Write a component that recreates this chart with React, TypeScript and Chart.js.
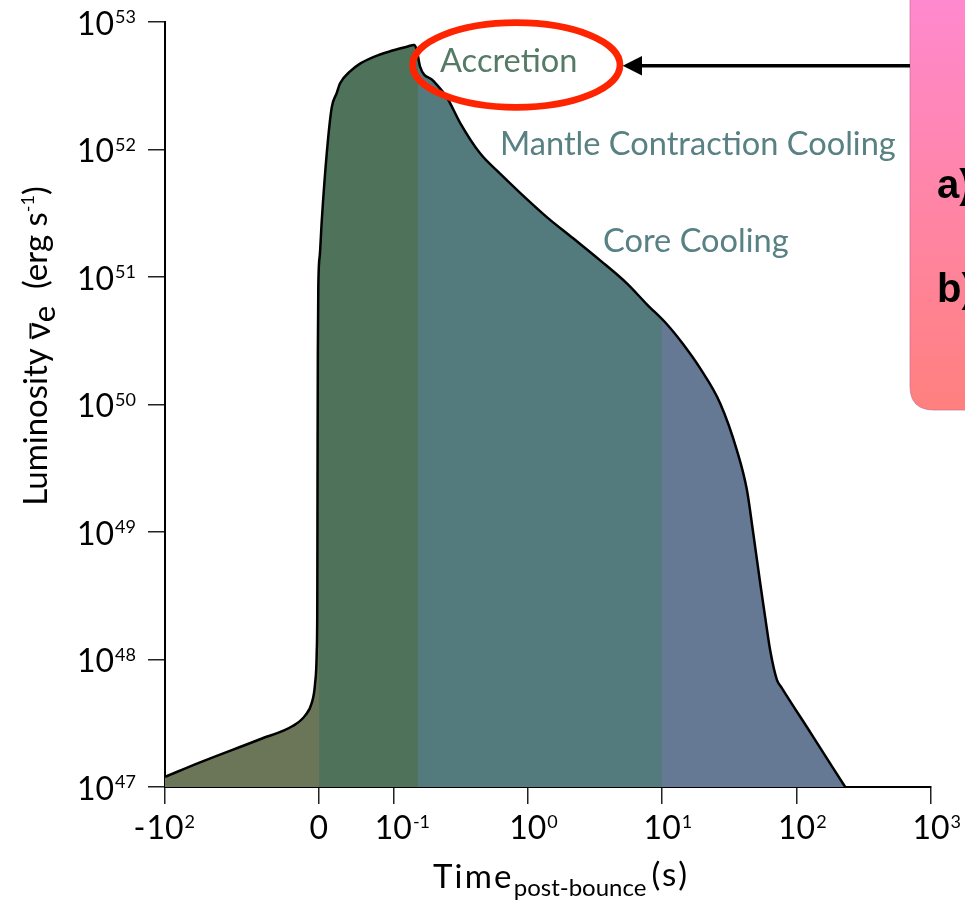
import React, { useEffect, useRef } from "react";
import { Chart, registerables } from "chart.js";

Chart.register(...registerables);

// ---------- data ----------
// time after bounce (s)
const TIME_S = [
  -100, -77.2, -38.2, -16.7, -8.9, -4.55, -2.41, -1.3, -0.95, -0.85, -0.75, -0.6, -0.3,
  0.0015, 0.004, 0.0107, 0.0174, 0.0239, 0.0286, 0.042, 0.0554, 0.0755, 0.0956, 0.1258, 0.1426, 0.1493, 0.158,
  0.1974, 0.2497, 0.3137, 0.4418, 0.6226, 0.877, 1.386, 2.176, 3.456, 5.46, 7.69, 10.84,
  14.33, 19.18, 27.03, 35.97, 42.7, 47.6, 53.6, 58.4, 63.7, 71.4, 76.9, 128.6, 230,
];
// anti-electron-neutrino luminosity (erg/s)
const LUMINOSITY = [
  1.2e47, 1.56e47, 2.37e47, 3.02e47, 3.63e47, 4.57e47, 6.46e47, 1.17e48, 2.88e48, 1.23e49, 5.25e49, 2.51e50, 8.32e50,
  1.51e51, 2.75e51, 9.33e51, 2.14e52, 2.76e52, 3.31e52, 4.1e52, 4.72e52, 5.38e52, 5.89e52, 6.39e52, 6.61e52, 6.03e52, 4.47e52,
  3.47e52, 2.57e52, 1.62e52, 9.33e51, 6.46e51, 4.57e51, 2.95e51, 2.01e51, 1.35e51, 8.91e50, 6.11e50, 4.26e50,
  2.97e50, 1.92e50, 1.02e50, 4.37e49, 2.14e49, 9.77e48, 3.98e48, 2.14e48, 1.17e48, 6.92e47, 6.08e47, 2.61e47, 1.0e47,
];
// phases (start time in s) and their fill colours
const PHASE_START_S = [-100, 0, 0.153, 10];
const PHASE_COLORS = ["#6B7659", "#4E735A", "#537B7D", "#657994"];
const PHASE_NAMES = ["Accretion", "Mantle Contraction Cooling", "Core Cooling"];
const PHASE_NAME_COLORS = ["#557A65", "#588183", "#588183"];

// axis ticks
const X_TICKS_S = [-100, 0, 0.1, 1, 10, 100, 1000];
const X_TICK_PREFIX = ["-", "", "", "", "", "", ""];
const X_TICK_BASE = ["10", "0", "10", "10", "10", "10", "10"];
const X_TICK_SUP = ["2", "", "-1", "0", "1", "2", "3"];
const Y_TICK_EXP = [47, 48, 49, 50, 51, 52, 53];

const BOX_ITEMS = ["a)", "b)"];

// ---------- axis transform (symlog-like: linear below 0.1 s, log above) ----------
const LIN_DECADES = 0.555; // axis width used by 0 .. 0.1 s
const NEG_DECADES = 1.144; // axis width used by -100 .. 0 s
function axisPos(t: number): number {
  if (t >= 0.1) return Math.log10(t);
  if (t >= 0) return -1 - LIN_DECADES * (1 - t / 0.1);
  return -1 - LIN_DECADES - NEG_DECADES * (-t / 100);
}

const FONT = "Lato, 'Open Sans', sans-serif";

const overlay = {
  id: "overlay",
  afterDraw(chart: any) {
    const ctx: any = chart.ctx;
    const xs = chart.scales.x;
    const ys = chart.scales.y;
    const area = chart.chartArea;
    ctx.save();
    ctx.fillStyle = "#000";
    ctx.textBaseline = "alphabetic";

    // y tick labels
    Y_TICK_EXP.forEach((e) => {
      const y = ys.getPixelForValue(10 ** e);
      const right = area.left - 29;
      ctx.font = `18px ${FONT}`;
      const sw = ctx.measureText(String(e)).width;
      ctx.textAlign = "right";
      ctx.fillText(String(e), right, y + 1);
      ctx.font = `32px ${FONT}`;
      ctx.fillText("10", right - sw - 1, y + 12.6);
    });

    // x tick labels
    X_TICKS_S.forEach((t, i) => {
      const x = xs.getPixelForValue(axisPos(t));
      const baseY = area.bottom + 51.6;
      ctx.font = `32px ${FONT}`;
      const base = X_TICK_BASE[i];
      const bw = ctx.measureText(base).width;
      const bx = x - bw / 2;
      ctx.textAlign = "left";
      ctx.fillText(base, bx, baseY);
      if (X_TICK_PREFIX[i]) {
        ctx.textAlign = "right";
        ctx.fillText(X_TICK_PREFIX[i], bx - 1, baseY);
      }
      if (X_TICK_SUP[i]) {
        ctx.textAlign = "left";
        ctx.font = `18px ${FONT}`;
        ctx.fillText(X_TICK_SUP[i], bx + bw + 1, baseY - 10.8);
      }
    });

    // x title
    {
      ctx.textAlign = "left";
      let x = 433;
      const by = area.bottom + 101;
      ctx.font = `33px ${FONT}`;
      ctx.letterSpacing = "2.2px";
      ctx.fillText("Time", x, by);
      x += ctx.measureText("Time").width;
      ctx.letterSpacing = "0px";
      ctx.font = `24px ${FONT}`;
      ctx.fillText("post-bounce", x, by + 8);
      x += ctx.measureText("post-bounce").width + 5;
      ctx.font = `33px ${FONT}`;
      ctx.letterSpacing = "2.5px";
      ctx.fillText("(s)", x, by - 2);
      ctx.letterSpacing = "0px";
    }

    // y title (rotated)
    {
      const pieces = [
        { t: "Luminosity ", f: `33px ${FONT}`, dy: 0, over: false },
        { t: "ν", f: `34px ${FONT}`, dy: 3.5, over: true },
        { t: "e", f: `31px ${FONT}`, dy: 8, over: false },
        { t: "  (erg s", f: `33px ${FONT}`, dy: 0, over: false },
        { t: "-1", f: `18px ${FONT}`, dy: -13, over: false },
        { t: ")", f: `33px ${FONT}`, dy: 0, over: false },
      ];
      let total = 0;
      const widths = pieces.map((p) => {
        ctx.font = p.f;
        const w = ctx.measureText(p.t).width;
        total += w;
        return w;
      });
      ctx.save();
      ctx.translate(46.5, 346);
      ctx.rotate(-Math.PI / 2);
      ctx.textAlign = "left";
      let x = -total / 2;
      pieces.forEach((p, i) => {
        ctx.font = p.f;
        ctx.fillText(p.t, x, p.dy);
        if (p.over) {
          ctx.strokeStyle = "#000";
          ctx.lineWidth = 2;
          ctx.beginPath();
          ctx.moveTo(x + 1, -16);
          ctx.lineTo(x + widths[i] - 1, -16);
          ctx.stroke();
        }
        x += widths[i];
      });
      ctx.restore();
    }

    // phase labels
    ctx.textAlign = "left";
    ctx.font = `32.6px ${FONT}`;
    const labelPos = [
      [440, 71.7],
      [500, 155],
      [603, 251.7],
    ];
    PHASE_NAMES.forEach((n, i) => {
      ctx.fillStyle = PHASE_NAME_COLORS[i];
      ctx.fillText(n, labelPos[i][0], labelPos[i][1]);
    });

    // red ellipse
    ctx.strokeStyle = "#FF2400";
    ctx.lineWidth = 6.7;
    ctx.beginPath();
    ctx.ellipse(516.3, 65, 103.7, 42.3, 0, 0, Math.PI * 2);
    ctx.stroke();

    // pink box
    {
      const left = 910, bottom = 410, r = 24;
      const g = ctx.createLinearGradient(0, 0, 0, bottom);
      g.addColorStop(0, "#FF89CE");
      g.addColorStop(1, "#FF807E");
      ctx.beginPath();
      ctx.moveTo(left, -40);
      ctx.lineTo(left, bottom - r);
      ctx.quadraticCurveTo(left, bottom, left + r, bottom);
      ctx.lineTo(1000, bottom);
      ctx.lineTo(1000, -40);
      ctx.closePath();
      ctx.fillStyle = g;
      ctx.fill();
      ctx.strokeStyle = "rgba(200,110,150,0.7)";
      ctx.lineWidth = 1;
      ctx.stroke();
      ctx.fillStyle = "#000";
      ctx.font = `bold 40px 'Liberation Sans', Arial, sans-serif`;
      ctx.fillText(BOX_ITEMS[0], 937, 198);
      ctx.fillText(BOX_ITEMS[1], 937, 302);
    }

    // arrow
    ctx.strokeStyle = "#000";
    ctx.fillStyle = "#000";
    ctx.lineWidth = 3.5;
    ctx.beginPath();
    ctx.moveTo(910, 65.7);
    ctx.lineTo(638, 65.7);
    ctx.stroke();
    ctx.beginPath();
    ctx.moveTo(622.7, 65.7);
    ctx.lineTo(642, 56);
    ctx.lineTo(642, 75.4);
    ctx.closePath();
    ctx.fill();

    ctx.restore();
  },
};

export default function App() {
  const ref = useRef<HTMLCanvasElement>(null);
  useEffect(() => {
    const points = TIME_S.map((t, i) => ({ x: axisPos(t), y: LUMINOSITY[i] }));
    const chart = new Chart(ref.current as HTMLCanvasElement, {
      type: "line",
      data: {
        datasets: [
          {
            data: points,
            borderColor: "#000",
            borderWidth: 2.5,
            pointRadius: 0,
            cubicInterpolationMode: "monotone",
            fill: "start",
            backgroundColor: (c: any) => {
              const ch = c.chart;
              const a = ch.chartArea;
              const xs = ch.scales.x;
              if (!a || !xs) return PHASE_COLORS[2];
              const g = ch.ctx.createLinearGradient(a.left, 0, a.right, 0);
              const w = a.right - a.left;
              PHASE_COLORS.forEach((col, i) => {
                const s = Math.min(1, Math.max(0, (xs.getPixelForValue(axisPos(PHASE_START_S[i])) - a.left) / w));
                const e =
                  i + 1 < PHASE_START_S.length
                    ? Math.min(1, Math.max(0, (xs.getPixelForValue(axisPos(PHASE_START_S[i + 1])) - a.left) / w))
                    : 1;
                g.addColorStop(s, col);
                g.addColorStop(e, col);
              });
              return g;
            },
          } as any,
        ],
      },
      options: {
        animation: false,
        responsive: true,
        maintainAspectRatio: false,
        layout: { autoPadding: false, padding: { left: 148, right: 34, top: 22, bottom: 99 } } as any,
        plugins: { legend: { display: false }, tooltip: { enabled: false } },
        scales: {
          x: {
            type: "linear",
            min: axisPos(-100),
            max: 3,
            afterBuildTicks: (s: any) => {
              s.ticks = X_TICKS_S.map((t) => ({ value: axisPos(t) }));
            },
            ticks: { display: false },
            grid: { display: true, drawOnChartArea: false, drawTicks: true, tickLength: 17, color: "#222", lineWidth: 1.5 },
            border: { display: true, color: "#000", width: 2 },
          },
          y: {
            type: "logarithmic",
            min: 1e47,
            max: 1e53,
            afterBuildTicks: (s: any) => {
              s.ticks = Y_TICK_EXP.map((e) => ({ value: 10 ** e }));
            },
            ticks: { display: false },
            grid: { display: true, drawOnChartArea: false, drawTicks: true, tickLength: 17, color: "#222", lineWidth: 1.5 },
            border: { display: true, color: "#000", width: 2 },
          },
        },
      },
      plugins: [overlay],
    });
    return () => chart.destroy();
  }, []);
  return (
    <div style={{ position: "absolute", left: 0, top: 0, width: 965, height: 903, background: "#fff" }}>
      <canvas ref={ref} />
    </div>
  );
}
